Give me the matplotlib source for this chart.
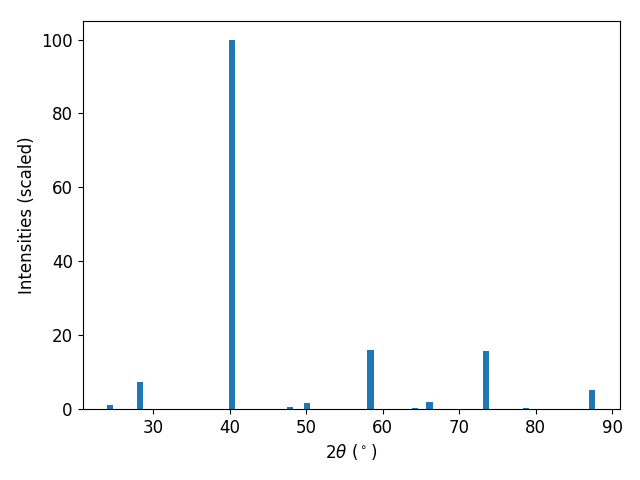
import matplotlib
matplotlib.use("Agg")
import matplotlib.pyplot as plt

# peak positions (2theta, degrees) and scaled intensities
two_theta = [24.35, 28.25, 40.3, 47.85, 50.15, 58.4, 64.25, 66.1, 73.45, 78.75, 87.35]
intensity = [1.2, 7.3, 100.0, 0.6, 1.6, 16.0, 0.3, 1.9, 15.7, 0.3, 5.1]

plt.rcParams['font.size'] = 12

fig, ax = plt.subplots(figsize=(6.4, 4.8), dpi=100)
ax.bar(two_theta, intensity, width=0.8)
ax.set_xlabel(r"$2\theta$ ($^\circ$)")
ax.set_ylabel("Intensities (scaled)")
fig.subplots_adjust(left=0.129, right=0.968, top=0.956, bottom=0.148)
fig.savefig("out.png")
